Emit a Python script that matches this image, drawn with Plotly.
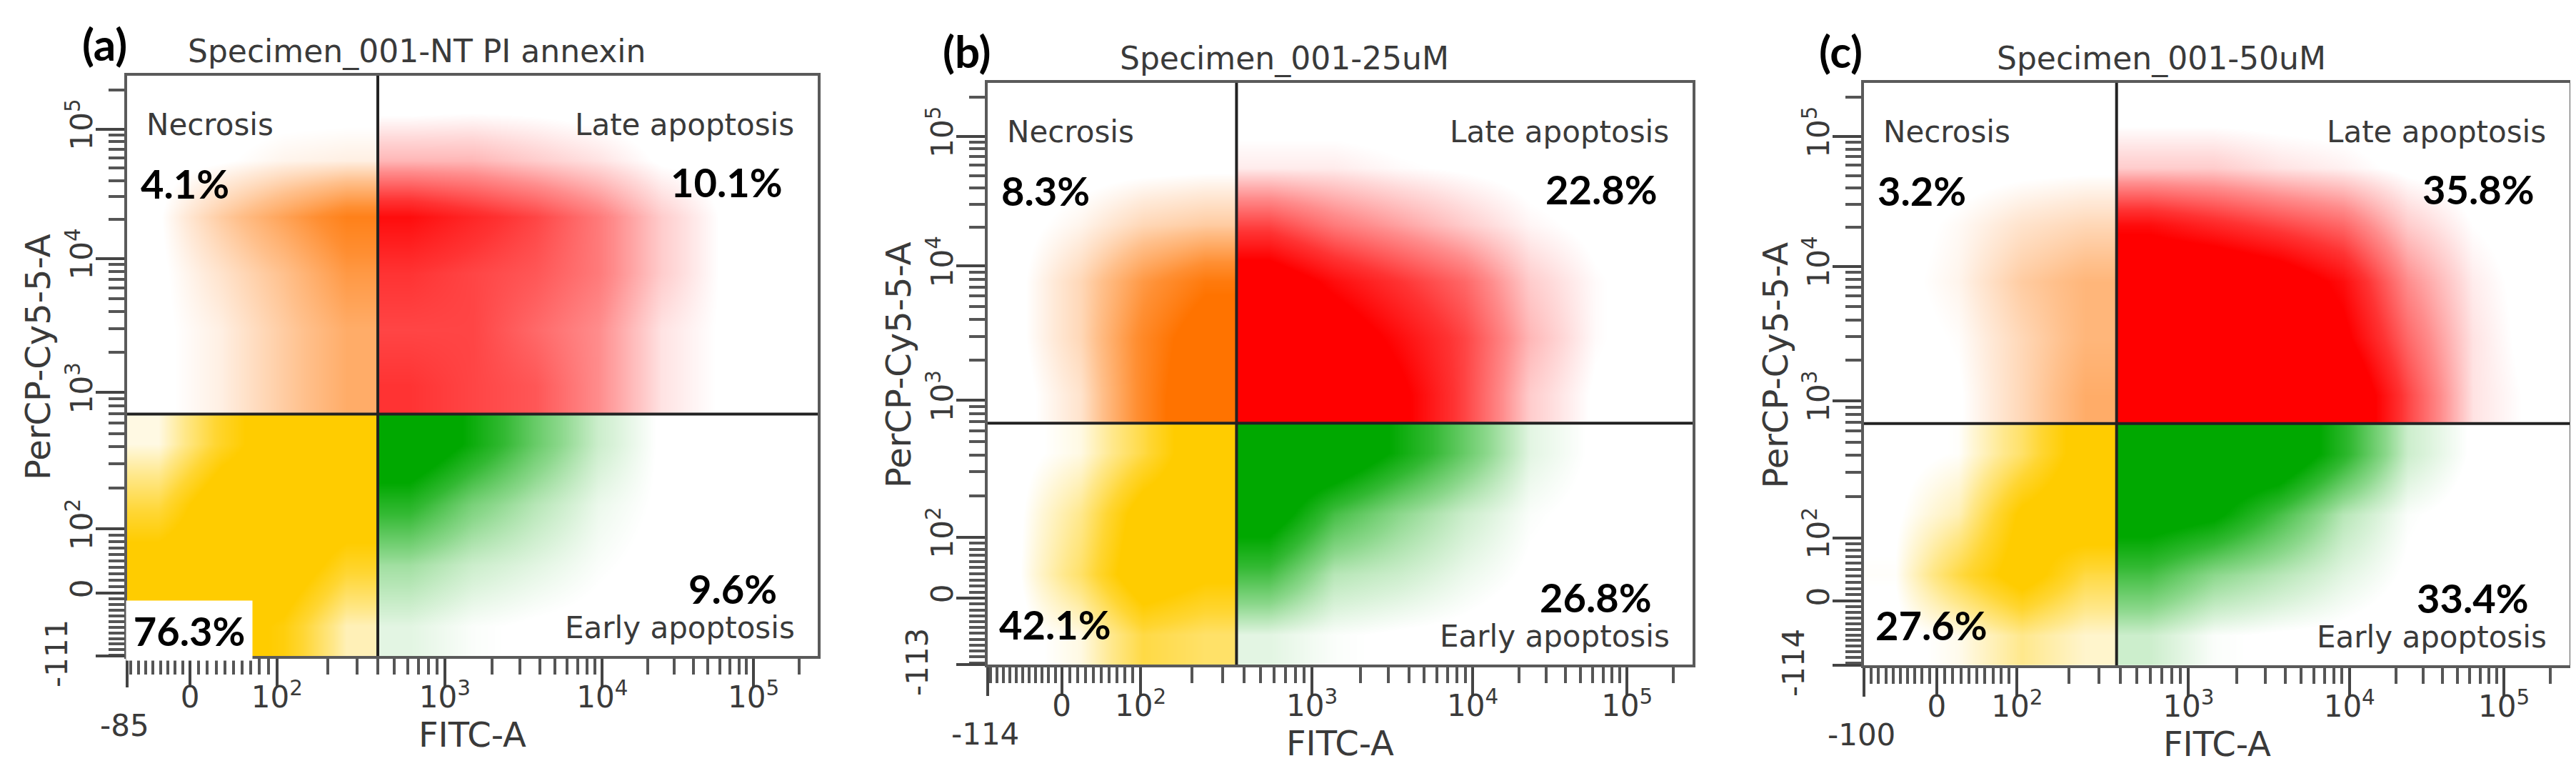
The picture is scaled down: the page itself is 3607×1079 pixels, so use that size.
import numpy as np
import plotly.graph_objects as go

W, H = 3607, 1079

# ---------------- values ----------------
tags = ["(a)", "(b)", "(c)"]
titles = ["Specimen_001-NT PI annexin", "Specimen_001-25uM", "Specimen_001-50uM"]
x_lows = [-85, -114, -100]          # lowest FITC-A value on each x axis
y_lows = [-111, -113, -114]         # lowest PerCP-Cy5-5-A value on each y axis
necrosis = [4.1, 8.3, 3.2]
late_apoptosis = [10.1, 22.8, 35.8]
early_apoptosis = [9.6, 26.8, 33.4]
live = [76.3, 42.1, 27.6]

# quadrant gates, in display units (0..1 of each axis)
gate_x = [0.363, 0.353, 0.358]
gate_y = [0.417, 0.415, 0.415]

# biexponential display: where 0 and the decades 1e2..1e5 fall
x_zero = [0.091, 0.105, 0.103]
y_zero = [0.108, 0.114, 0.110]
x_decades = [0.217, 0.460, 0.688, 0.907]
y_decades = [0.219, 0.454, 0.685, 0.908]

# event density (0-10) on a coarse grid, rows bottom->top.
# cols 0-3 left of the FITC gate, 4-10 right of it; rows 0-3 below the PerCP gate, 4-9 above
density_a = [
    [7, 9, 7, 2, 1, 0.5, 0.3, 0.2, 0, 0, 0],
    [9, 10, 10, 6, 2.5, 1.5, 1, 0.5, 0.2, 0, 0],
    [5, 10, 10, 10, 6, 3.5, 2, 0.8, 0.3, 0, 0],
    [1, 6, 10, 10, 10, 7, 4, 1.5, 0.3, 0, 0],
    [0.2, 1, 2.5, 4, 5.5, 5, 4.5, 3, 1, 0.3, 0],
    [0.2, 1, 2.5, 4, 5, 5, 4, 3, 1, 0.3, 0],
    [0.2, 1.5, 3, 5, 5.5, 5, 4.5, 3.5, 1.5, 0.3, 0],
    [0.3, 2.5, 4.5, 6.5, 7, 6, 5, 3.5, 1.5, 0.3, 0],
    [0, 0.3, 0.8, 1, 2, 2, 1.5, 1, 0.3, 0.1, 0],
    [0, 0, 0, 0, 0, 0.1, 0.1, 0, 0, 0, 0],
]
density_b = [
    [0, 1, 5, 4, 1, 0.5, 0.3, 0.2, 0, 0, 0],
    [0.3, 4, 10, 8, 5, 2, 1.5, 0.8, 0.3, 0.1, 0],
    [0.2, 3, 9, 10, 9, 5, 3, 1.5, 0.5, 0.2, 0],
    [0, 1, 5, 10, 10, 10, 7, 4, 1, 0.3, 0.2],
    [0, 1.5, 6, 10, 10, 10, 8, 5, 1.5, 0.3, 0],
    [0.2, 2, 6, 9, 10, 9, 7, 5, 2, 0.5, 0],
    [0.2, 2, 5, 7, 9, 7, 5.5, 4, 1.5, 0.5, 0],
    [0.1, 0.8, 2, 2.5, 5, 3.5, 2.5, 1.5, 0.6, 0.2, 0],
    [0, 0, 0.1, 0.2, 0.8, 0.8, 0.5, 0.3, 0.1, 0, 0],
    [0, 0, 0, 0, 0, 0, 0, 0, 0, 0, 0],
]
density_c = [
    [0, 0.8, 3, 1.5, 1.5, 0.5, 0.3, 0.2, 0, 0, 0],
    [0.5, 5, 9, 5, 5, 3, 2, 1, 0.3, 0, 0],
    [0.2, 2, 8, 10, 9, 8, 5, 2, 0.5, 0.1, 0],
    [0, 0.5, 4, 9, 10, 10, 10, 6, 1.5, 0.3, 0.1],
    [0, 0.3, 2, 4, 10, 10, 10, 10, 5, 1, 0.2],
    [0, 0.5, 2, 3.5, 10, 10, 10, 8, 4, 1, 0],
    [0.1, 0.8, 2.5, 3.5, 10, 10, 9, 7, 3, 0.8, 0],
    [0, 0.6, 1.5, 2, 7, 6, 5, 4, 1.5, 0.4, 0],
    [0, 0, 0.1, 0.2, 1.5, 1.5, 1, 0.7, 0.2, 0, 0],
    [0, 0, 0, 0, 0, 0, 0, 0, 0, 0, 0],
]
densities = [density_a, density_b, density_c]

# ---------------- layout (pixels in the 3607x1079 picture) ----------------
boxes = [(170, 1137, 98, 910), (1375, 2362, 108, 922), (2602, 3590, 108, 923)]
quad_colors = {"LL": "#FFCC00", "UL": "#FF7300", "UR": "#FF0000", "LR": "#00A800"}
grey = "#3a3a3a"
label_font = dict(family="DejaVu Sans", size=42, color=grey)
pct_font = dict(family="Lato", size=56, color="black")


def tint(hex_color, f):
    r, g, b = (int(hex_color[i:i + 2], 16) for i in (1, 3, 5))
    mix = [round(255 - f * (255 - c)) for c in (r, g, b)]
    return "rgb(%d,%d,%d)" % tuple(mix)


def scale_for(c):
    return [[0, "white"], [0.04, "white"], [0.12, tint(c, 0.15)], [0.3, tint(c, 0.45)],
            [0.55, tint(c, 0.8)], [0.75, c], [1, c]]


def biex(v, low, zero, dec):
    v = np.asarray(v, float)
    logs = np.log10(np.clip(v, 1, None))
    hi = np.interp(logs, [2, 3, 4, 5, 6], list(dec) + [2 * dec[3] - dec[2]])
    lo = np.interp(v, [low, 0, 100], [0, zero, dec[0]])
    return np.where(v >= 100, hi, lo)


def minor_values(low):
    neg = [-v for v in range(10, 200, 10) if -v > low]
    return neg + list(range(10, 100, 10)) + [m * 10 ** k for k in (2, 3, 4) for m in range(2, 10)] + [2e5]


def px(x):
    return x / W


def py(y):
    return 1 - y / H


fig = go.Figure()
annotations = []
shapes = []

for i in range(3):
    sfx = "" if i == 0 else str(i + 1)
    x0, x1, y0, y1 = boxes[i]
    gx, gy = gate_x[i], gate_y[i]
    z = np.array(densities[i], float)

    xe = np.concatenate([np.linspace(0, gx, 5), np.linspace(gx, 1, 8)[1:]])
    ye = np.concatenate([np.linspace(0, gy, 5), np.linspace(gy, 1, 7)[1:]])
    quads = {"LL": (slice(0, 4), slice(0, 4)), "LR": (slice(0, 4), slice(4, 11)),
             "UL": (slice(4, 10), slice(0, 4)), "UR": (slice(4, 10), slice(4, 11))}
    for q, (rs, cs) in quads.items():
        fig.add_trace(go.Heatmap(
            x=xe[cs.start:cs.stop + 1], y=ye[rs.start:rs.stop + 1], z=z[rs, cs],
            zmin=0, zmax=10, zsmooth="best", colorscale=scale_for(quad_colors[q]),
            showscale=False, hoverinfo="skip", xaxis="x" + sfx, yaxis="y" + sfx))

    # axes
    xmaj = [x_lows[i], 0, 1e2, 1e3, 1e4, 1e5]
    ymaj = [y_lows[i], 0, 1e2, 1e3, 1e4, 1e5]
    dec_text = ["", "0", "10<sup>2</sup>", "10<sup>3</sup>", "10<sup>4</sup>", "10<sup>5</sup>"]
    common = dict(range=[0, 1], showgrid=False, zeroline=False, showline=True, mirror=True,
                  linecolor="#5a5a5a", linewidth=4, ticks="outside", ticklen=40, tickwidth=4,
                  tickcolor="#444", tickmode="array", tickfont=label_font, fixedrange=True)
    fig.layout["xaxis" + sfx] = dict(
        common, domain=[px(x0), px(x1)], anchor="y" + sfx, ticklabelstandoff=-22,
        tickvals=biex(xmaj, x_lows[i], x_zero[i], x_decades).tolist(), ticktext=dec_text,
        minor=dict(tickmode="array", ticks="outside", ticklen=22, tickwidth=4, tickcolor="#555",
                   tickvals=biex(minor_values(x_lows[i]), x_lows[i], x_zero[i], x_decades).tolist()))
    fig.layout["yaxis" + sfx] = dict(
        common, domain=[py(y1), py(y0)], anchor="x" + sfx, tickangle=-90, ticklabelstandoff=-12,
        tickvals=biex(ymaj, y_lows[i], y_zero[i], y_decades).tolist(), ticktext=dec_text,
        minor=dict(tickmode="array", ticks="outside", ticklen=22, tickwidth=4, tickcolor="#555",
                   tickvals=biex(minor_values(y_lows[i]), y_lows[i], y_zero[i], y_decades).tolist()))

    # quadrant gates
    shapes.append(dict(type="line", xref="x" + sfx, yref="y" + sfx, x0=gx, x1=gx, y0=0, y1=1,
                       line=dict(color="#222", width=4)))
    shapes.append(dict(type="line", xref="x" + sfx, yref="y" + sfx, x0=0, x1=1, y0=gy, y1=gy,
                       line=dict(color="#222", width=4)))

    # texts
    def ann(text, x, y, xanchor="center", font=label_font, yanchor="middle", **kw):
        annotations.append(dict(text=text, x=px(x), y=py(y), xref="paper", yref="paper",
                                xanchor=xanchor, yanchor=yanchor, showarrow=False, font=font, **kw))

    ann("<b>%s</b>" % tags[i], x0 - 65, y0 - 45, "left", dict(family="Lato", size=62, color="black"))
    ann(titles[i], (x0 + x1) / 2 - 78, y0 - 34, "center", dict(family="DejaVu Sans", size=44, color=grey))
    ann("Necrosis", x0 + 25, y0 + 68, "left")
    ann("Late apoptosis", x1 - 31, y0 + 68, "right")
    ann("Early apoptosis", x1 - 30, y1 - 40, "right")
    ann("<b>%.1f%%</b>" % necrosis[i], x0 + 17, y0 + 150, "left", pct_font)
    ann("<b>%.1f%%</b>" % late_apoptosis[i], x1 - 47, y0 + 148, "right", pct_font)
    ann("<b>%.1f%%</b>" % early_apoptosis[i], x1 - 55, y1 - 95, "right", pct_font)
    if i == 0:
        # this label sits on a white patch that hides part of the axes
        ann("<b>%.1f%%</b>" % live[i], x0 - 2, y1 - 78, "left", pct_font, yanchor="top",
            bgcolor="white", width=176, height=83, align="center", valign="middle", borderpad=0)
    else:
        ann("<b>%.1f%%</b>" % live[i], x0 + 14, y1 - 57, "left", pct_font)
    ann("FITC-A", (x0 + x1) / 2, y1 + 110, "center", dict(family="DejaVu Sans", size=48, color=grey))
    ann("PerCP-Cy5-5-A", x0 - 125, (y0 + y1) / 2 - 12, "center",
        dict(family="DejaVu Sans", size=48, color=grey), textangle=-90)
    ann(str(x_lows[i]), x0 - 4, y1 + 97, "center")
    ann(str(y_lows[i]), x0 - 99, y1 - 3, "center", textangle=-90)

fig.update_layout(width=W, height=H, margin=dict(l=0, r=0, t=0, b=0),
                  paper_bgcolor="white", plot_bgcolor="white", showlegend=False,
                  annotations=annotations, shapes=shapes)
fig.write_html("out.html")
